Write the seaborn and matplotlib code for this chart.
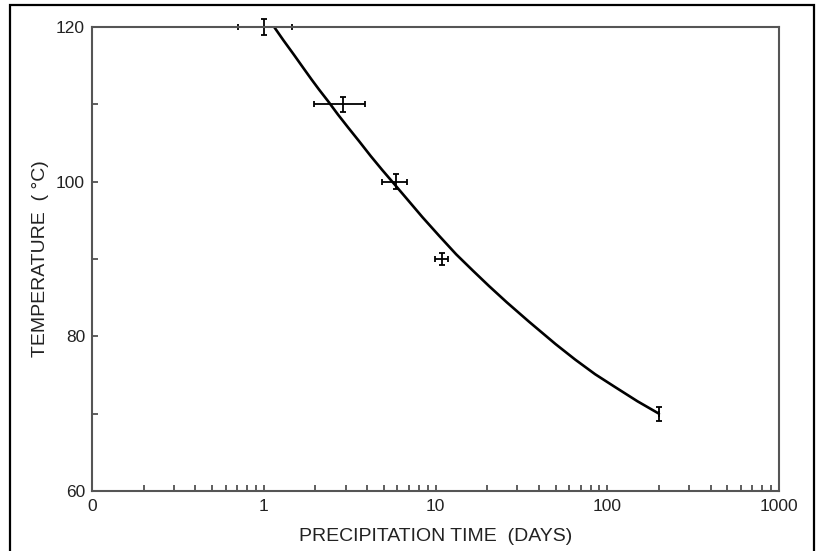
import numpy as np
import pandas as pd
import seaborn as sns
import matplotlib.pyplot as plt
from matplotlib.patches import Rectangle
from matplotlib.ticker import LogLocator, FixedLocator, FixedFormatter, NullFormatter

# Puntos medidos (tiempo en dias, temperatura en C)
tiempo = [1.0, 2.9, 5.85, 10.9, 200]
temperatura = [120, 110, 100, 90, 70]
tiempo_min = [0.71, 1.95, 4.9, 9.9, 200]
tiempo_max = [1.46, 3.9, 6.8, 11.9, 200]
temp_err = [1, 1, 1, 0.8, 0.9]

# Curva ajustada
curva_x = [1.15, 1.3, 1.5, 1.7, 1.9, 2.1, 2.37, 2.7, 3.1, 3.6, 4.2, 4.9, 5.7, 6.8,
           8.4, 10.5, 13.2, 16.5, 20.5, 26, 35, 50, 65, 85, 110, 150, 200]
curva_y = [120.0, 118.3, 116.4, 114.7, 113.2, 111.9, 110.4, 108.7, 107.0, 105.2,
           103.3, 101.5, 99.8, 97.8, 95.4, 93.0, 90.6, 88.5, 86.5, 84.4, 81.9,
           79.0, 77.0, 75.1, 73.5, 71.6, 70.0]

x_ticks = [0.1, 1, 10, 100, 1000]
x_labels = ['0', '1', '10', '100', '1000']
y_ticks = [60, 80, 100, 120]

sns.set_style('ticks')
plt.rcParams['font.family'] = ['Liberation Sans', 'DejaVu Sans']

fig = plt.figure(figsize=(8.17, 5.51), dpi=100)
ax = fig.add_axes([92/817, 1-491/551, (779-92)/817, (491-27)/551])

df_curva = pd.DataFrame({'t': curva_x, 'T': curva_y})
sns.lineplot(data=df_curva, x='t', y='T', ax=ax, color='black', linewidth=1.9, sort=False)

t = np.array(tiempo)
xerr = [t - np.array(tiempo_min), np.array(tiempo_max) - t]
eb = ax.errorbar(tiempo, temperatura, xerr=xerr, yerr=temp_err, fmt='none',
                 ecolor='black', elinewidth=1.3, capsize=2.5, capthick=1.3)
for art in eb.get_children():
    art.set_clip_on(False)

ax.set_xscale('log')
ax.set_xlim(0.1, 1000)
ax.set_ylim(60, 120)

ax.xaxis.set_major_locator(FixedLocator(x_ticks))
ax.xaxis.set_major_formatter(FixedFormatter(x_labels))
ax.xaxis.set_minor_locator(LogLocator(base=10, subs=np.arange(2, 10)))
ax.xaxis.set_minor_formatter(NullFormatter())
ax.yaxis.set_major_locator(FixedLocator(y_ticks))
ax.yaxis.set_minor_locator(FixedLocator([70, 90, 110]))

ax.tick_params(which='both', direction='in', length=4.5, width=1.1, color='#333333',
               labelsize=12.5, top=False, right=False, labelcolor='#222222')
ax.tick_params(axis='x', pad=6)
ax.tick_params(axis='y', pad=5)

for s in ax.spines.values():
    s.set_color('#555555')
    s.set_linewidth(1.5)

ax.set_xlabel('PRECIPITATION TIME  (DAYS)', fontsize=14, labelpad=10, color='#222222')
ax.set_ylabel('TEMPERATURE  ( °C)', fontsize=14, labelpad=5, color='#222222')

# marco exterior
fig.patches.append(Rectangle((10/817, -0.01), (814-10)/817, 1 - 5/551 + 0.01,
                             transform=fig.transFigure, fill=False,
                             edgecolor='black', linewidth=1.6))

fig.savefig('out.png', dpi=100)
